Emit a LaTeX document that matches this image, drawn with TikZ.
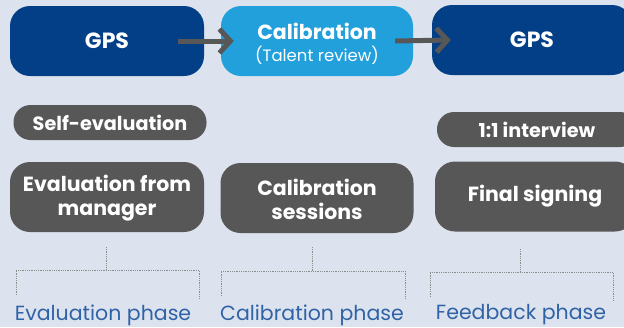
\documentclass[tikz,border=0pt]{standalone}
\usepackage{fontspec}
\setmainfont{Poppins}
\usetikzlibrary{arrows.meta}
\definecolor{bg}{HTML}{DCE3EE}
\definecolor{navy}{HTML}{023F86}
\definecolor{sky}{HTML}{22A0DB}
\definecolor{slate}{HTML}{575757}
\definecolor{phaseblue}{HTML}{3062A6}
\definecolor{bracketgrey}{HTML}{8C8C8C}
\begin{document}
\begin{tikzpicture}[x=1pt,y=-1pt,
  box/.style={rounded corners=20pt, text=white, align=center, inner sep=0pt,
    font=\bfseries\fontsize{20.5}{24}\selectfont, minimum height=70pt},
  pill/.style={rounded corners=17pt, fill=slate, text=white, inner sep=0pt,
    font=\bfseries\fontsize{19.2}{22}\selectfont, minimum height=35pt},
  flow/.style={line width=5pt, draw=slate, -{Straight Barb[length=11pt,width=24pt]}},
  bracket/.style={draw=bracketgrey, line width=0.8pt, densely dotted},
  phase/.style={text=phaseblue, font=\fontsize{20.5}{24}\selectfont, inner sep=0pt}]
  \fill[bg] (0,0) rectangle (624,327);
  \useasboundingbox (0,0) rectangle (624,327);

  % top row: process stages
  \node[box, fill=navy, minimum width=194pt, font=\bfseries\fontsize{22}{26}\selectfont] (gpsA) at (107,41) {GPS};
  \node[box, fill=sky, minimum width=192pt] (cal) at (317,41) {};
  \node[text=white, font=\bfseries\fontsize{20.5}{24}\selectfont, inner sep=0pt] (calT) at (317,31.5) {Calibration};
  \node[text=white, font=\fontsize{16.5}{19}\selectfont, inner sep=0pt] (calS) at (317,55.5) {(Talent review)};
  \node[box, fill=navy, minimum width=200pt, font=\bfseries\fontsize{22}{26}\selectfont] (gpsB) at (532,40) {GPS};

  \draw[flow] ([xshift=-26pt]gpsA.east) -- ([xshift=13pt]cal.west);
  \draw[flow] ([xshift=-18pt]cal.east) -- ([xshift=19pt]gpsB.west);

  % activity boxes
  \node[pill, minimum width=193pt] (self) at (110,122.5) {Self-evaluation};
  \node[box, fill=slate, minimum width=194pt] (mgr) at (107,197) {};
  \node[box, fill=slate, minimum width=193pt] (sess) at (317,198) {};
  \node[text=white, font=\bfseries\fontsize{20.5}{24}\selectfont, align=center, inner sep=0pt]
    at (107,198.5) {Evaluation from\\manager};
  \node[text=white, font=\bfseries\fontsize{20.5}{24}\selectfont, align=center, inner sep=0pt]
    at (317,199.5) {Calibration\\sessions};
  \node[pill, minimum width=200pt] (iv) at (537,129.5) {1:1 interview};
  \node[box, fill=slate, minimum width=200pt] (sign) at (535,196.5) {Final signing};

  % phase brackets
  \coordinate (eTop) at (106,247);
  \coordinate (eMid) at (106,270);
  \coordinate (eL) at (16,270);
  \coordinate (eR) at (199,270);
  \coordinate (eLd) at (16,295);
  \coordinate (eRd) at (199,298);
  \draw[bracket] (eTop) -- (eMid);
  \draw[bracket] (eLd) -- (eL) -- (eR) -- (eRd);

  \coordinate (cTop) at (312,247);
  \coordinate (cMid) at (312,271);
  \coordinate (cL) at (221,271);
  \coordinate (cR) at (405,271);
  \coordinate (cLd) at (221,296);
  \coordinate (cRd) at (405,298);
  \draw[bracket] (cTop) -- (cMid);
  \draw[bracket] (cLd) -- (cL) -- (cR) -- (cRd);

  \coordinate (fTop) at (520,249);
  \coordinate (fMid) at (520,272);
  \coordinate (fL) at (430,272);
  \coordinate (fR) at (613,272);
  \coordinate (fLd) at (430,297);
  \coordinate (fRd) at (613,300);
  \draw[bracket] (fTop) -- (fMid);
  \draw[bracket] (fLd) -- (fL) -- (fR) -- (fRd);

  % phase labels
  \node[phase] (ePh) at (103,315) {Evaluation phase};
  \node[phase] (cPh) at (312,315) {Calibration phase};
  \node[phase] (fPh) at (521,315) {Feedback phase};
\end{tikzpicture}
\end{document}
